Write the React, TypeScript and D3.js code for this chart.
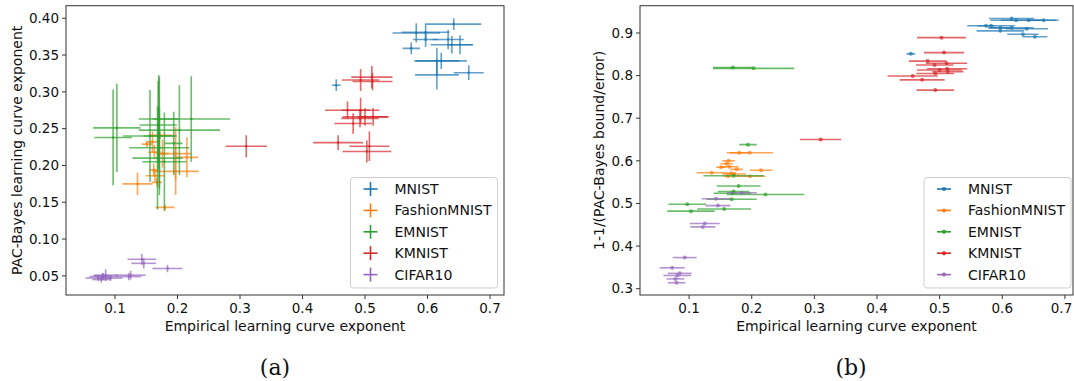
import React from "react";
import * as d3 from "d3";

// ---------- DATA ----------
const seriesNames = ["MNIST", "FashionMNIST", "EMNIST", "KMNIST", "CIFAR10"];
const seriesColors = ["#1f77b4", "#ff7f0e", "#2ca02c", "#d62728", "#9467bd"];

// empirical exponent (x), its error, panel (a) y, y-error, panel (b) y
const mnistX = [0.642, 0.582, 0.597, 0.597, 0.633, 0.574, 0.639, 0.652, 0.622, 0.615, 0.615, 0.666, 0.454];
const mnistXErr = [0.044, 0.038, 0.038, 0.02, 0.025, 0.014, 0.034, 0.02, 0.041, 0.036, 0.035, 0.024, 0.007];
const mnistA = [0.392, 0.38, 0.381, 0.371, 0.371, 0.359, 0.364, 0.364, 0.342, 0.342, 0.323, 0.326, 0.309];
const mnistAErr = [0.008, 0.013, 0.012, 0.01, 0.013, 0.008, 0.012, 0.013, 0.011, 0.018, 0.02, 0.01, 0.008];
const mnistB = [0.93, 0.917, 0.905, 0.912, 0.897, 0.917, 0.91, 0.891, 0.93, 0.934, 0.912, 0.93, 0.851];

const fashionX = [0.136, 0.151, 0.16, 0.162, 0.163, 0.164, 0.167, 0.172, 0.176, 0.18, 0.197, 0.197, 0.215];
const fashionXErr = [0.024, 0.008, 0.01, 0.007, 0.01, 0.015, 0.008, 0.019, 0.01, 0.015, 0.037, 0.025, 0.018];
const fashionA = [0.175, 0.229, 0.232, 0.194, 0.218, 0.186, 0.177, 0.241, 0.216, 0.143, 0.192, 0.216, 0.211];
const fashionAErr = [0.015, 0.004, 0.014, 0.009, 0.01, 0.008, 0.006, 0.005, 0.019, 0.004, 0.032, 0.036, 0.027];
const fashionB = [0.572, 0.585, 0.593, 0.564, 0.6, 0.586, 0.571, 0.569, 0.58, 0.619, 0.619, 0.564, 0.578];

const emnistX = [0.17, 0.203, 0.194, 0.171, 0.179, 0.171, 0.169, 0.222, 0.168, 0.097, 0.156, 0.103];
const emnistXErr = [0.032, 0.065, 0.014, 0.048, 0.035, 0.025, 0.03, 0.062, 0.04, 0.03, 0.043, 0.038];
const emnistA = [0.263, 0.248, 0.23, 0.224, 0.205, 0.24, 0.255, 0.263, 0.21, 0.238, 0.24, 0.251];
const emnistAErr = [0.06, 0.061, 0.043, 0.055, 0.067, 0.08, 0.06, 0.058, 0.07, 0.065, 0.0625, 0.06];
const emnistB = [0.819, 0.817, 0.638, 0.565, 0.541, 0.528, 0.524, 0.521, 0.51, 0.498, 0.487, 0.482];

const kmnistX = [0.457, 0.472, 0.481, 0.492, 0.493, 0.493, 0.5, 0.503, 0.507, 0.511, 0.512, 0.513, 0.31];
const kmnistXErr = [0.04, 0.036, 0.03, 0.03, 0.03, 0.03, 0.036, 0.039, 0.032, 0.033, 0.032, 0.025, 0.033];
const kmnistA = [0.231, 0.275, 0.257, 0.264, 0.316, 0.275, 0.266, 0.219, 0.226, 0.32, 0.314, 0.266, 0.226];
const kmnistAErr = [0.01, 0.012, 0.014, 0.012, 0.015, 0.017, 0.012, 0.015, 0.02, 0.015, 0.012, 0.012, 0.015];
const kmnistB = [0.799, 0.79, 0.834, 0.825, 0.805, 0.766, 0.813, 0.889, 0.854, 0.829, 0.816, 0.809, 0.65];

const cifarX = [0.143, 0.146, 0.184, 0.125, 0.122, 0.093, 0.073, 0.085, 0.081, 0.078, 0.08];
const cifarXErr = [0.023, 0.02, 0.024, 0.024, 0.02, 0.019, 0.02, 0.019, 0.022, 0.014, 0.014];
const cifarA = [0.0725, 0.067, 0.06, 0.051, 0.049, 0.047, 0.047, 0.051, 0.049, 0.045, 0.05];
const cifarAErr = [0.0075, 0.007, 0.005, 0.006, 0.005, 0.004, 0.004, 0.008, 0.005, 0.004, 0.004];
const cifarB = [0.511, 0.495, 0.525, 0.453, 0.445, 0.373, 0.349, 0.336, 0.331, 0.323, 0.314];

const xTicks = [0.1, 0.2, 0.3, 0.4, 0.5, 0.6, 0.7];
const yTicksA = [0.05, 0.1, 0.15, 0.2, 0.25, 0.3, 0.35, 0.4];
const yTicksB = [0.3, 0.4, 0.5, 0.6, 0.7, 0.8, 0.9];

const xLabel = "Empirical learning curve exponent";
const yLabelA = "PAC-Bayes learning curve exponent";
const yLabelB = "1-1/(PAC-Bayes bound/error)";

const series = [
  { x: mnistX, xe: mnistXErr, a: mnistA, ae: mnistAErr, b: mnistB },
  { x: fashionX, xe: fashionXErr, a: fashionA, ae: fashionAErr, b: fashionB },
  { x: emnistX, xe: emnistXErr, a: emnistA, ae: emnistAErr, b: emnistB },
  { x: kmnistX, xe: kmnistXErr, a: kmnistA, ae: kmnistAErr, b: kmnistB },
  { x: cifarX, xe: cifarXErr, a: cifarA, ae: cifarAErr, b: cifarB },
];

const FONT = "'DejaVu Sans', sans-serif";
const AXIS = "#333";
const W = 1074;

function Panel({ left, right, xMax, top, bottom, yDomain, yTicks, yFmt, yLabel, yLabelX, mode, legendX, clipId }) {
  const x = d3.scaleLinear().domain([0.0216, xMax]).range([left, right]);
  const y = d3.scaleLinear().domain(yDomain).range([bottom, top]);
  const xf = d3.format(".1f");
  const alpha = 0.7;
  const lw = 1.6;
  return (
    <g>
      <defs>
        <clipPath id={clipId}>
          <rect x={left} y={top} width={right - left} height={bottom - top} />
        </clipPath>
      </defs>
      <g clipPath={`url(#${clipId})`}>
        {series.map((s, si) => (
          <g key={si} stroke={seriesColors[si]} fill={seriesColors[si]}>
            {s.x.map((xv, i) => {
              const yv = mode === "a" ? s.a[i] : s.b[i];
              const cx = x(xv);
              const cy = y(yv);
              return (
                <g key={i}>
                  <line x1={x(xv - s.xe[i])} x2={x(xv + s.xe[i])} y1={cy} y2={cy} strokeWidth={lw} strokeOpacity={alpha} />
                  {mode === "a" && (
                    <line x1={cx} x2={cx} y1={y(yv - s.ae[i])} y2={y(yv + s.ae[i])} strokeWidth={lw} strokeOpacity={alpha} />
                  )}
                  <circle cx={cx} cy={cy} r={mode === "a" ? 1.3 : 2} stroke="none" fillOpacity={alpha} />
                </g>
              );
            })}
          </g>
        ))}
      </g>
      <rect x={left} y={top} width={right - left} height={bottom - top} fill="none" stroke={AXIS} strokeWidth={1} />
      {xTicks.map((t) => (
        <g key={t}>
          <line x1={x(t)} x2={x(t)} y1={bottom} y2={bottom + 4} stroke={AXIS} />
          <text x={Math.min(x(t), W - 12.5)} y={bottom + 18} textAnchor="middle" fontSize={13.5} fontFamily={FONT} fill="#111">
            {xf(t)}
          </text>
        </g>
      ))}
      {yTicks.map((t) => (
        <g key={t}>
          <line x1={left - 4} x2={left} y1={y(t)} y2={y(t)} stroke={AXIS} />
          <text x={left - 7} y={y(t)} dy="0.35em" textAnchor="end" fontSize={13.5} fontFamily={FONT} fill="#111">
            {yFmt(t)}
          </text>
        </g>
      ))}
      <text x={(left + right) / 2} y={bottom + 36} textAnchor="middle" fontSize={14} fontFamily={FONT} fill="#111">
        {xLabel}
      </text>
      <text
        transform={`translate(${yLabelX},${(top + bottom) / 2}) rotate(-90)`}
        textAnchor="middle"
        dy="0.35em"
        fontSize={14}
        fontFamily={FONT}
        fill="#111"
      >
        {yLabel}
      </text>
      <g>
        <rect x={legendX} y={177.5} width={147} height={110.5} rx={3} fill="#fff" fillOpacity={0.8} stroke="#d0d0d0" />
        {seriesNames.map((n, i) => {
          const ly = 189 + i * 21.4;
          const mx = legendX + 20;
          return (
            <g key={n} stroke={seriesColors[i]} fill={seriesColors[i]}>
              <line x1={mx - 7} x2={mx + 7} y1={ly} y2={ly} strokeWidth={lw} />
              {mode === "a" && <line x1={mx} x2={mx} y1={ly - 7} y2={ly + 7} strokeWidth={lw} />}
              {mode === "b" && <circle cx={mx} cy={ly} r={2} stroke="none" />}
              <text x={legendX + 44} y={ly} dy="0.35em" fontSize={14} fontFamily={FONT} fill="#111" stroke="none">
                {n}
              </text>
            </g>
          );
        })}
      </g>
    </g>
  );
}

export default function App() {
  const fmt2 = d3.format(".2f");
  const fmt1 = d3.format(".1f");
  return (
    <svg width={W} height={381} style={{ position: "absolute", left: 0, top: 0, background: "#fff" }}>
      <rect width={W} height={381} fill="#fff" />
      <Panel
        left={66}
        right={504}
        xMax={0.7224}
        top={5.7}
        bottom={295}
        yDomain={[0.024, 0.417]}
        yTicks={yTicksA}
        yFmt={fmt2}
        yLabel={yLabelA}
        yLabelX={17}
        mode="a"
        legendX={350.5}
        clipId="clipA"
      />
      <Panel
        left={640}
        right={1073}
        xMax={0.7129}
        top={5.7}
        bottom={295}
        yDomain={[0.2852, 0.964]}
        yTicks={yTicksB}
        yFmt={fmt1}
        yLabel={yLabelB}
        yLabelX={599}
        mode="b"
        legendX={924}
        clipId="clipB"
      />
      <text x={275} y={375} textAnchor="middle" fontSize={22} fontFamily="'DejaVu Serif', 'Liberation Serif', serif" fill="#111">
        (a)
      </text>
      <text x={851} y={375} textAnchor="middle" fontSize={22} fontFamily="'DejaVu Serif', 'Liberation Serif', serif" fill="#111">
        (b)
      </text>
    </svg>
  );
}
